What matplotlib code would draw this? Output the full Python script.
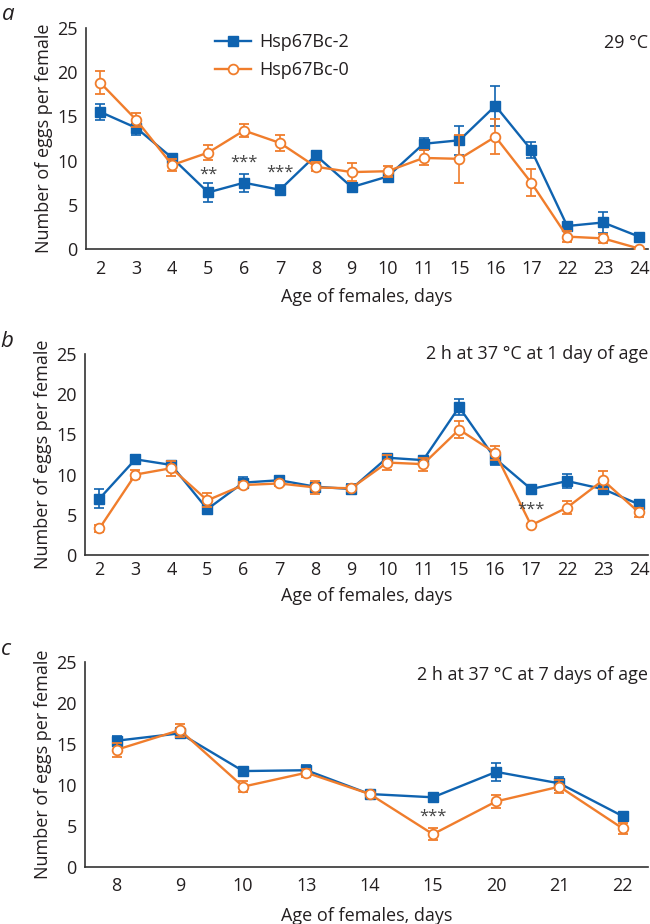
import matplotlib
matplotlib.use("Agg")
import matplotlib.pyplot as plt
from matplotlib.lines import Line2D

plt.rcParams['font.family'] = ['Open Sans', 'DejaVu Sans']

BLUE = '#0f63b0'
ORANGE = '#f07d2c'
TXT = '#231f20'

# Panel a (29 °C)
days_a = ['2', '3', '4', '5', '6', '7', '8', '9', '10', '11', '15', '16', '17', '22', '23', '24']
hsp2_a = [15.5, 13.7, 10.3, 6.4, 7.5, 6.7, 10.6, 7.0, 8.2, 11.9, 12.3, 16.2, 11.2, 2.6, 3.0, 1.4]
hsp2_a_err = [0.9, 0.75, 0.5, 1.1, 1.0, 0.5, 0.4, 0.5, 0.3, 0.7, 1.65, 2.25, 0.9, 0.3, 1.2, 0.3]
hsp0_a = [18.8, 14.6, 9.5, 10.9, 13.4, 12.0, 9.3, 8.7, 8.8, 10.3, 10.2, 12.7, 7.5, 1.4, 1.2, 0.05]
hsp0_a_err = [1.3, 0.75, 0.7, 0.85, 0.7, 0.95, 0.5, 1.0, 0.6, 0.85, 2.7, 2.0, 1.5, 0.65, 0.55, 0.0]
stars_a = [('5', '**', 8.4), ('6', '***', 9.8), ('7', '***', 8.6)]

# Panel b (2 h at 37 °C at 1 day of age)
days_b = ['2', '3', '4', '5', '6', '7', '8', '9', '10', '11', '15', '16', '17', '22', '23', '24']
hsp2_b = [7.0, 11.9, 11.2, 5.7, 9.0, 9.3, 8.5, 8.2, 12.1, 11.8, 18.4, 12.0, 8.2, 9.2, 8.2, 6.3]
hsp2_b_err = [1.2, 0.5, 0.4, 0.3, 0.7, 0.3, 0.3, 0.6, 0.4, 0.3, 1.0, 0.85, 0.5, 0.9, 0.5, 0.5]
hsp0_b = [3.3, 10.0, 10.8, 6.8, 8.7, 8.9, 8.4, 8.3, 11.5, 11.3, 15.6, 12.7, 3.7, 5.9, 9.3, 5.3]
hsp0_b_err = [0.4, 0.6, 0.95, 0.85, 0.4, 0.3, 0.85, 0.3, 0.9, 0.8, 1.05, 0.9, 0.1, 0.8, 1.15, 0.6]
stars_b = [('17', '***', 5.7)]

# Panel c (2 h at 37 °C at 7 days of age)
days_c = ['8', '9', '10', '13', '14', '15', '20', '21', '22']
hsp2_c = [15.4, 16.3, 11.7, 11.8, 8.9, 8.5, 11.6, 10.2, 6.2]
hsp2_c_err = [0.6, 0.6, 0.5, 0.6, 0.3, 0.2, 1.1, 0.8, 0.3]
hsp0_c = [14.3, 16.7, 9.8, 11.5, 8.9, 4.0, 8.0, 9.8, 4.7]
hsp0_c_err = [0.85, 0.8, 0.7, 0.5, 0.3, 0.7, 0.8, 0.8, 0.7]
stars_c = [('15', '***', 6.1)]

series_names = ['Hsp67Bc-2', 'Hsp67Bc-0']
yticks = [0, 5, 10, 15, 20, 25]
xlabel = 'Age of females, days'
ylabel = 'Number of eggs per female'

W, H = 650, 924
FS = 13
fig = plt.figure(figsize=(W / 100, H / 100), dpi=100)


def make_ax(left, top, right, bottom):
    return fig.add_axes([left / W, 1 - bottom / H, (right - left) / W, (bottom - top) / H])


def draw(ax, days, b, be, o, oe, stars, title, label, xlim, title_y, tick_pad, xlab_pad):
    x = list(range(len(days)))
    ax.errorbar(x, b, yerr=be, color=BLUE, marker='s', ms=6.5, mfc=BLUE, mec=BLUE,
                lw=1.7, elinewidth=1.2, capsize=3.5, capthick=1.2, zorder=3)
    ax.errorbar(x, o, yerr=oe, color=ORANGE, marker='o', ms=7, mfc='white', mec=ORANGE,
                mew=1.3, lw=1.7, elinewidth=1.2, capsize=3.5, capthick=1.2, zorder=4)
    for d, s, yv in stars:
        ax.text(days.index(d), yv, s, ha='center', va='center', fontsize=12,
                color='#444444', zorder=5)
    ax.set_xticks(x)
    ax.set_xticklabels(days)
    ax.set_xlim(*xlim)
    ax.set_ylim(0, 25)
    ax.set_yticks(yticks)
    ax.tick_params(length=0, labelsize=FS, colors=TXT)
    ax.tick_params(axis='x', pad=tick_pad)
    ax.tick_params(axis='y', pad=6)
    for sp in ['top', 'right']:
        ax.spines[sp].set_visible(False)
    for sp in ['left', 'bottom']:
        ax.spines[sp].set_color('#333333')
        ax.spines[sp].set_linewidth(1.2)
    ax.set_xlabel(xlabel, fontsize=FS, color=TXT, labelpad=xlab_pad)
    ax.set_ylabel(ylabel, fontsize=FS, color=TXT, labelpad=3)
    ax.text(1.0, title_y, title, transform=ax.transAxes, ha='right', va='center',
            fontsize=FS, color=TXT)
    ax.text(-0.15, 1.06, label, transform=ax.transAxes, ha='left', va='center',
            fontsize=16, style='italic', color=TXT)


ax_a = make_ax(86, 28, 648, 249)
draw(ax_a, days_a, hsp2_a, hsp2_a_err, hsp0_a, hsp0_a_err, stars_a, '29 °C', 'a',
     (-0.4, 15.25), 0.93, 8, 7)
handles = [
    Line2D([], [], color=BLUE, marker='s', ms=6.5, mfc=BLUE, mec=BLUE, lw=1.7),
    Line2D([], [], color=ORANGE, marker='o', ms=7, mfc='white', mec=ORANGE, mew=1.3, lw=1.7),
]
leg = ax_a.legend(handles, series_names, loc='upper left', bbox_to_anchor=(0.2, 1.05),
                  frameon=False, fontsize=FS, handlelength=2.0, handletextpad=0.45,
                  labelspacing=0.55)
for t in leg.get_texts():
    t.set_color(TXT)

ax_b = make_ax(85, 354, 648, 555)
draw(ax_b, days_b, hsp2_b, hsp2_b_err, hsp0_b, hsp0_b_err, stars_b,
     '2 h at 37 °C at 1 day of age', 'b', (-0.4, 15.25), 1.0, 4, 6)

ax_c = make_ax(85, 662, 648, 867)
draw(ax_c, days_c, hsp2_c, hsp2_c_err, hsp0_c, hsp0_c_err, stars_c,
     '2 h at 37 °C at 7 days of age', 'c', (-0.5, 8.4), 0.935, 7, 9)

fig.savefig('out.png', dpi=100)
